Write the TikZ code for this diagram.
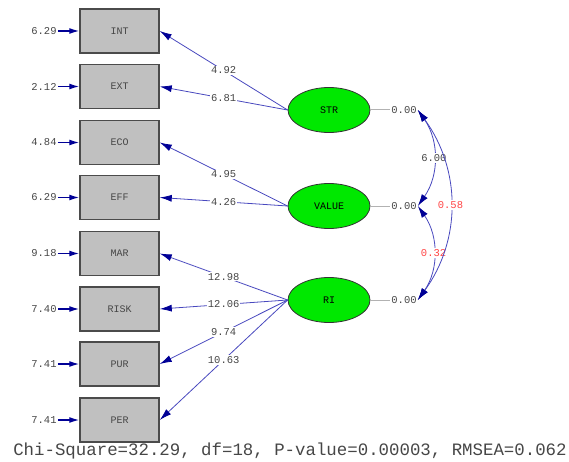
\documentclass[tikz,border=0pt]{standalone}
\usepackage{fontspec}
\setmonofont{Liberation Mono}
\usepackage{xcolor}
\usetikzlibrary{arrows.meta,shapes.geometric}
\definecolor{pathblue}{RGB}{72,72,190}
\definecolor{headblue}{RGB}{0,0,150}
\definecolor{boxfill}{RGB}{192,192,192}
\definecolor{boxline}{RGB}{75,75,75}
\definecolor{latgreen}{RGB}{0,232,0}
\definecolor{numgray}{RGB}{70,70,70}
\definecolor{numred}{RGB}{255,70,70}

\begin{document}
\begin{tikzpicture}
      [ x=1pt, y=-1pt
      , obs/.style={draw=boxline, fill=boxfill, line width=1.5pt, minimum width=79pt, minimum height=44pt, font=\ttfamily\fontsize{10}{10}\selectfont, text=numgray}
      , lat/.style={ellipse, draw=black!80, fill=latgreen, line width=0.8pt, minimum width=82pt, minimum height=45pt, font=\ttfamily\fontsize{10}{10}\selectfont}
      , num/.style={font=\ttfamily\fontsize{10.5}{10.5}\selectfont, text=numgray, inner sep=1pt}
      , redval/.style={num, text=numred}
      , load/.style={pathblue, draw, line width=0.8pt, -{Latex[length=12pt,width=7pt,color=headblue]}}
      , err/.style={headblue, draw, line width=1.3pt, -{Latex[length=10pt,width=6pt]}}
      , cov/.style={pathblue, draw, line width=0.8pt, {Latex[length=12pt,width=7pt,color=headblue]}-{Latex[length=12pt,width=7pt,color=headblue]}}
      , resid/.style={black!30, draw, line width=1pt}
      ]
    \useasboundingbox (0,0) rectangle (569,462);

    \node[obs] (INT) at (119.5,31) {INT};
    \node[obs] (EXT) at (119.5,86.5) {EXT};
    \node[obs] (ECO) at (119.5,142.5) {ECO};
    \node[obs] (EFF) at (119.5,197.5) {EFF};
    \node[obs] (MAR) at (119.5,253.5) {MAR};
    \node[obs] (RISK) at (119.5,309) {RISK};
    \node[obs] (PUR) at (119.5,364) {PUR};
    \node[obs] (PER) at (119.5,420) {PER};

    \node[num] (eINT) at (44,31) {6.29};
    \node[num] (eEXT) at (44,86.5) {2.12};
    \node[num] (eECO) at (44,142.5) {4.84};
    \node[num] (eEFF) at (44,197.5) {6.29};
    \node[num] (eMAR) at (44,253.5) {9.18};
    \node[num] (eRISK) at (44,309) {7.40};
    \node[num] (ePUR) at (44,364) {7.41};
    \node[num] (ePER) at (44,420) {7.41};

    \path
    (eINT) edge[err] (INT)
    (eEXT) edge[err] (EXT)
    (eECO) edge[err] (ECO)
    (eEFF) edge[err] (EFF)
    (eMAR) edge[err] (MAR)
    (eRISK) edge[err] (RISK)
    (ePUR) edge[err] (PUR)
    (ePER) edge[err] (PER);

    \node[lat] (STR) at (329,110) {STR};
    \node[lat] (VALUE) at (329,206) {VALUE};
    \node[lat] (RI) at (329,300) {RI};

    \path
    (STR.west) edge[load] node[num, fill=white] {4.92} (INT.east)
    (STR.west) edge[load] node[num, fill=white] {6.81} (EXT.east)

    (VALUE.west) edge[load] node[num, fill=white] {4.95} (ECO.east)
    (VALUE.west) edge[load] node[num, fill=white] {4.26} (EFF.east)

    (RI.west) edge[load] node[num, fill=white] {12.98} (MAR.east)
    (RI.west) edge[load] node[num, fill=white] {12.06} (RISK.east)
    (RI.west) edge[load] node[num, fill=white] {9.74} (PUR.east)
    (RI.west) edge[load] node[num, fill=white] {10.63} (PER.east);

    \node[num] (vSTR) at (404,110) {0.00};
    \node[num] (vVALUE) at (404,206) {0.00};
    \node[num] (vRI) at (404,300) {0.00};

    \path
    (STR.east) edge[resid] (vSTR)
    (VALUE.east) edge[resid] (vVALUE)
    (RI.east) edge[resid] (vRI);

    \path
    (vSTR.east) edge[cov, bend left=35] node[num, fill=white] {6.00} (vVALUE.east)
    (vVALUE.east) edge[cov, bend left=35] node[redval, fill=white] {0.32} (vRI.east)
    (vSTR.east) edge[cov, bend left=36] node[redval, fill=white] {0.58} (vRI.east);

    \node[font=\ttfamily\fontsize{17.4}{17.4}\selectfont, text=numgray] (fit) at (290,451) {Chi-Square=32.29, df=18, P-value=0.00003, RMSEA=0.062};
    \end{tikzpicture}
\end{document}
